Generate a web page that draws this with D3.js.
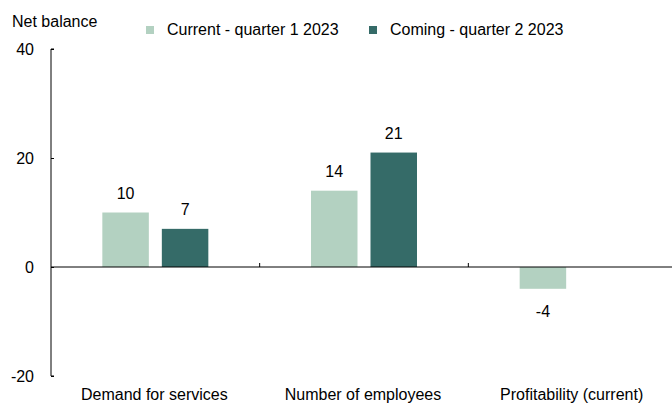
<!DOCTYPE html>
<meta charset="utf-8">
<style>
  body { margin: 0; background: #fff; }
  text { font-family: "Liberation Sans", Arial, sans-serif; font-size: 16px; fill: #000; }
  .axis path, .axis line { stroke: #000; }
</style>
<svg width="672" height="403"></svg>
<script src="https://d3js.org/d3.v7.min.js"></script>
<script>
// chart data
var categories = ["Demand for services", "Number of employees", "Profitability (current)"];
var seriesNames = ["Current - quarter 1 2023", "Coming - quarter 2 2023"];
var currentQ1 = [10, 14, -4];
var comingQ2 = [7, 21, null];
var yTicks = [-20, 0, 20, 40];
var colors = ["#b3d1c1", "#356b68"];

var svg = d3.select("svg");
var plotL = 51, plotR = 677, plotT = 49, plotB = 376;

var x = d3.scaleBand().domain(categories).range([plotL, plotR]);
var y = d3.scaleLinear().domain([-20, 40]).range([plotB, plotT]);

// y axis: ticks point into the plot
svg.append("g")
  .attr("class", "axis")
  .attr("transform", "translate(" + plotL + ",0)")
  .call(d3.axisRight(y).tickValues(yTicks).tickSize(3).tickFormat(""))
  .call(function(g) { g.select(".domain").attr("d", "M3," + plotB + "H0V" + plotT + "H3"); });

svg.selectAll(".ylab")
  .data(yTicks)
  .enter().append("text")
  .attr("x", 34)
  .attr("y", function(d) { return y(d) + 6; })
  .attr("text-anchor", "end")
  .text(function(d) { return d; });

svg.append("text").attr("x", 12).attr("y", 27).text("Net balance");

// bars
var series = [currentQ1, comingQ2];
var barW = 46.5, gap = 13;
series.forEach(function(vals, s) {
  var data = categories.map(function(c, i) { return { cat: c, v: vals[i] }; })
    .filter(function(d) { return d.v != null; });
  var off = s === 0 ? -gap / 2 - barW : gap / 2;
  var bx = function(d) { return x(d.cat) + x.bandwidth() / 2 + off; };
  svg.selectAll(".bar" + s)
    .data(data)
    .enter().append("rect")
    .attr("x", bx)
    .attr("width", barW)
    .attr("y", function(d) { return y(Math.max(0, d.v)); })
    .attr("height", function(d) { return Math.abs(y(d.v) - y(0)); })
    .attr("fill", colors[s]);
  svg.selectAll(".val" + s)
    .data(data)
    .enter().append("text")
    .attr("x", function(d) { return bx(d) + barW / 2; })
    .attr("y", function(d) { return d.v >= 0 ? y(d.v) - 14 : y(d.v) + 28; })
    .attr("text-anchor", "middle")
    .text(function(d) { return d.v; });
});

// zero line with category separators
svg.append("line")
  .attr("x1", plotL).attr("x2", plotR)
  .attr("y1", y(0)).attr("y2", y(0))
  .attr("stroke", "#000");
svg.selectAll(".sep")
  .data(categories.slice(1))
  .enter().append("line")
  .attr("x1", function(d) { return x(d); }).attr("x2", function(d) { return x(d); })
  .attr("y1", y(0)).attr("y2", y(0) - 4)
  .attr("stroke", "#000");

svg.selectAll(".cat")
  .data(categories)
  .enter().append("text")
  .attr("x", function(d) { return x(d) + x.bandwidth() / 2 - 1; })
  .attr("y", 400)
  .attr("text-anchor", "middle")
  .text(function(d) { return d; });

// legend
var legendX = [146, 369];
seriesNames.forEach(function(name, i) {
  svg.append("rect").attr("x", legendX[i]).attr("y", 26).attr("width", 8).attr("height", 8).attr("fill", colors[i]);
  svg.append("text").attr("x", legendX[i] + 21).attr("y", 35).text(name);
});
</script>
